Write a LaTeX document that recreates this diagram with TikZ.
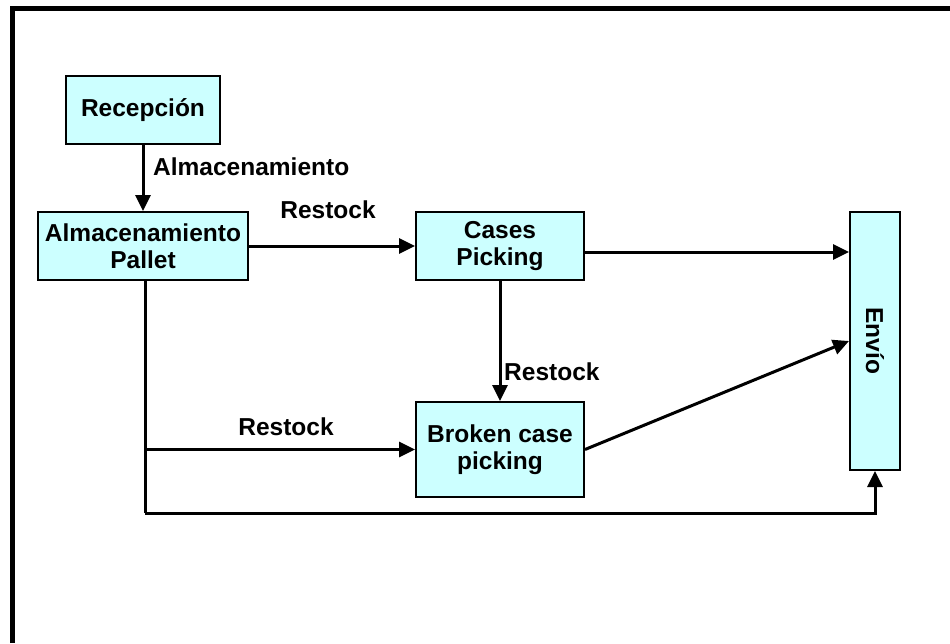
\documentclass[tikz,border=0pt]{standalone}
\usepackage{fontspec}
\setmainfont{Liberation Sans}
\usetikzlibrary{arrows.meta}
\definecolor{boxcyan}{HTML}{CCFFFF}
\begin{document}
\begin{tikzpicture}[x=1pt,y=-1pt,
  box/.style={draw=black, line width=2pt, fill=boxcyan, inner sep=0pt,
    align=center, font=\bfseries\fontsize{24.5}{27}\selectfont},
  flow/.style={line width=3pt, -{Triangle[length=16pt,width=15pt]}},
  plain/.style={line width=3pt},
  lbl/.style={font=\bfseries\fontsize{24.5}{27}\selectfont, inner sep=0pt}]
\useasboundingbox (0,0) rectangle (950,643);
% outer frame
\draw[line width=5pt] (12.5,643) -- (12.5,8.5) -- (950,8.5);

% process boxes
\node[box, minimum width=154pt, minimum height=68pt] (rec) at (143,110) {Recepción};
\node[box, minimum width=210pt, minimum height=68pt] (pal) at (143,246) {Almacenamiento\\Pallet};
\node[box, minimum width=168pt, minimum height=68pt] (cas) at (500,246) {Cases\\Picking};
\node[box, minimum width=168pt, minimum height=95pt] (brk) at (500,449.5) {Broken case\\picking};
\node[box, minimum width=50pt, minimum height=258pt] (env) at (875,341) {};
\node[lbl, rotate=-90] (envt) at (env.center) {Envío};

% helper coordinates
\coordinate (ycase) at (0,252);
\coordinate (low) at (145,513);

% connectors
\draw[flow] (rec.south) -- (pal.north);
\draw[flow] (pal.east) -- (cas.west);
\draw[flow] (cas.east |- ycase) -- (env.west |- ycase);
\draw[flow] (cas.south) -- (brk.north);
\draw[flow] (brk.east) -- (env.west);
\draw[plain] (low |- pal.south) -- (low);
\draw[flow] (low |- brk.west) -- (brk.west);
\draw[flow, line join=miter] (low) -| (env.south);

% connector labels
\node[lbl, anchor=west] (l1) at (153,167) {Almacenamiento};
\node[lbl] (l2) at (328,210) {Restock};
\node[lbl, anchor=west] (l3) at (504,372) {Restock};
\node[lbl] (l4) at (286,427) {Restock};
\end{tikzpicture}
\end{document}
